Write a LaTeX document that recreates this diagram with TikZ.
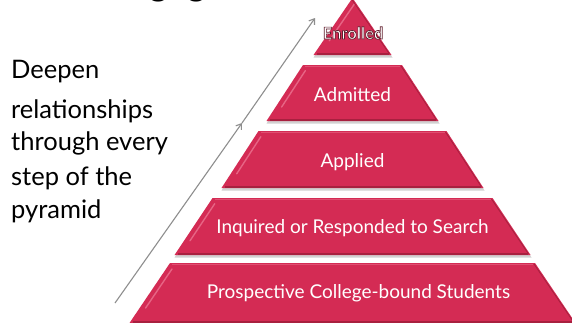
\documentclass[tikz,border=0pt]{standalone}
\usepackage{fontspec}
\setmainfont{Lato}
\usetikzlibrary{arrows.meta,calc}
\definecolor{pyr}{HTML}{D42B54}
\definecolor{pyrlight}{HTML}{EC7391}
\definecolor{pyrdark}{HTML}{A8203F}
\definecolor{arrgray}{HTML}{8E8E8E}
\newcommand\pyrlev[4]{%
  \coordinate (TL) at ({352.5-#2},{#1});
  \coordinate (TR) at ({352.5+#2},{#1});
  \coordinate (BR) at ({352.5+#4},{#3});
  \coordinate (BL) at ({352.5-#4},{#3});
  \fill[black,opacity=.18] ($(TL)+(0,2.5)$) -- ($(TR)+(1,2.5)$) -- ($(BR)+(1,2.5)$) -- ($(BL)+(0,2.5)$) -- cycle;
  \fill[pyr] (TL) -- (TR) -- (BR) -- (BL) -- cycle;
  \draw[pyrlight,opacity=.8,line width=1.4pt,line cap=round] ($(TL)!0.1!(BL)+(6,0)$) -- ($(TL)!0.75!(BL)+(6,0)$);
  \draw[pyrlight,opacity=.5,line width=0.8pt] ($(TL)+(2,1)$) -- ($(TR)+(-2,1)$);
  \draw[pyrdark,line width=1.2pt] ($(BL)+(3,-1)$) -- ($(BR)+(-3,-1)$);
  \draw[pyrdark,line width=0.8pt] ($(TR)+(-1,1)$) -- ($(BR)+(-2,-1)$);
}
\newcommand\outlinedtext[1]{\special{pdf:code q 2 Tr 0.7 w 0.38 0.12 0.18 RG}#1\special{pdf:code Q}}
\tikzset{
  lbl/.style={text=white,font=\fontsize{19}{21}\selectfont,inner sep=0pt},
  side/.style={anchor=base west,inner sep=0pt,font=\fontsize{25.5}{28}\selectfont},
  title/.style={anchor=base,inner sep=0pt,font=\fontsize{36}{40}\selectfont},
  enr/.style={font=\bfseries\fontsize{16.5}{18}\selectfont,inner sep=0pt,text=white},
  arr/.style={draw=arrgray,line width=1.1pt,-{Straight Barb[length=5pt,width=7pt]}},
}
\begin{document}
\begin{tikzpicture}[x=1pt,y=-1pt]
\useasboundingbox (0,0) rectangle (572,322);
\fill[white] (0,0) rectangle (572,322);
\begin{scope}
\clip (0,0) rectangle (572,322);
% cropped title (only descenders visible)
\node[title] (t1) at (158.5,-5) {g};
\node[title] (t2) at (196.5,-5) {g};
\node[title] (t3) at (356,-6) {y};
% pyramid levels
\pyrlev{-2}{0}{55}{39}
\pyrlev{65}{49.5}{121}{86}
\pyrlev{131}{94}{188}{131}
\pyrlev{198}{140}{255}{178}
\pyrlev{263}{182.5}{323}{223}
\end{scope}
% labels
\node[enr] (enr) at (353,33) {\outlinedtext{Enrolled}};
\node[lbl] (adm) at (352.5,95) {Admitted};
\node[lbl] (app) at (352.5,162) {Applied};
\node[lbl] (inq) at (352.5,228) {Inquired or Responded to Search};
\node[lbl] (pro) at (358.5,293) {Prospective College-bound Students};
% side text
\node[side] (l1) at (11,78) {Deepen};
\node[side] (l2) at (11,118) {relationships};
\node[side] (l3) at (11,150) {through every};
\node[side] (l4) at (11,185) {step of the};
\node[side] (l5) at (11,218) {pyramid};
% arrows
\coordinate (a0) at (115,303);
\coordinate (a1) at (242,123);
\coordinate (a2) at (315,18);
\draw[arr] (a0) -- (a1);
\draw[arr] (a1) -- (a2);
\end{tikzpicture}
\end{document}
